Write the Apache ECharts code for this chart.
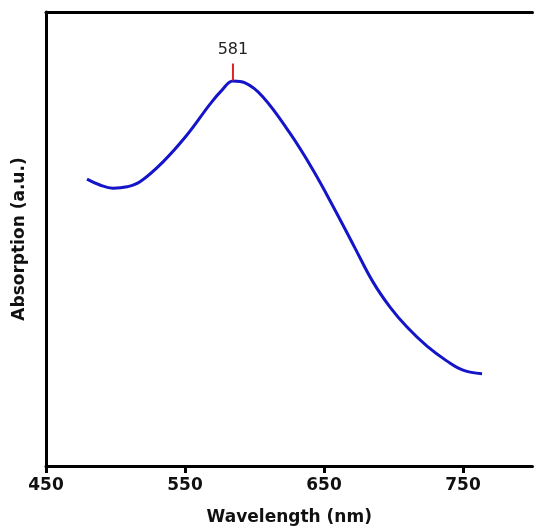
<!DOCTYPE html>
<html>
<head>
<meta charset="utf-8">
<script src="https://cdn.jsdelivr.net/npm/echarts@6/dist/echarts.min.js"></script>
<style>
html,body{margin:0;padding:0;background:#fff;}
#chart{width:534px;height:531px;}
</style>
</head>
<body>
<div id="chart"></div>
<script>
// Wavelength (nm) and absorption (a.u., arbitrary 0-100 scale)
const wavelength = [479.5, 488.8, 498.2, 508.3, 517.6, 534.2, 551.4, 568.0, 576.6, 584.5, 593.2, 606.1, 625.5, 642.1, 657.9, 672.3, 685.3, 697.5, 709.7, 724.1, 738.5, 750.0, 763.7];
const absorption = [63.2, 61.9, 61.2, 61.5, 62.6, 67.0, 72.9, 79.7, 82.8, 84.8, 84.4, 81.3, 73.3, 65.2, 56.4, 48.0, 40.5, 35.0, 30.6, 26.4, 23.1, 21.1, 20.3];
const xTicks = [450, 550, 650, 750];
const peakWavelength = 584.5;
const peakValue = 84.8;
const peakLabel = '581';

const font = 'DejaVu Sans';
const chart = echarts.init(document.getElementById('chart'), null, {renderer: 'canvas'});
chart.setOption({
  animation: false,
  backgroundColor: '#fff',
  grid: {left: 46, top: 12, right: 1.5, bottom: 65, containLabel: false},
  xAxis: [{
    type: 'value', min: 450, max: 800, interval: 100,
    name: 'Wavelength (nm)', nameLocation: 'middle', nameGap: 43,
    nameTextStyle: {fontFamily: font, fontWeight: 'bold', fontSize: 17, color: '#111'},
    axisLine: {show: true, lineStyle: {color: '#000', width: 3}},
    axisTick: {show: true, length: 7, lineStyle: {color: '#000', width: 3}, customValues: xTicks},
    axisLabel: {fontFamily: font, fontWeight: 'bold', fontSize: 17, color: '#111', margin: 11, customValues: xTicks},
    splitLine: {show: false}
  }, {
    type: 'value', position: 'top', min: 450, max: 800,
    axisLine: {show: true, lineStyle: {color: '#000', width: 3}},
    axisTick: {show: false}, axisLabel: {show: false}, splitLine: {show: false}
  }],
  yAxis: {
    type: 'value', min: 0, max: 100,
    name: 'Absorption (a.u.)', nameLocation: 'middle', nameGap: 18,
    nameTextStyle: {fontFamily: font, fontWeight: 'bold', fontSize: 17, color: '#111'},
    axisLine: {show: true, lineStyle: {color: '#000', width: 3}},
    axisTick: {show: false}, axisLabel: {show: false}, splitLine: {show: false}
  },
  series: [{
    type: 'line',
    data: wavelength.map((w, i) => [w, absorption[i]]),
    smooth: 0.4,
    showSymbol: false,
    lineStyle: {color: '#1414c8', width: 3},
    markPoint: {
      symbol: 'rect',
      symbolSize: [2, 17],
      symbolOffset: [0, -9],
      itemStyle: {color: '#e0202a'},
      label: {show: true, position: 'top', distance: 6, formatter: peakLabel,
        fontFamily: font, fontSize: 16, color: '#222'},
      data: [{coord: [peakWavelength, peakValue]}]
    }
  }]
});
</script>
</body>
</html>
